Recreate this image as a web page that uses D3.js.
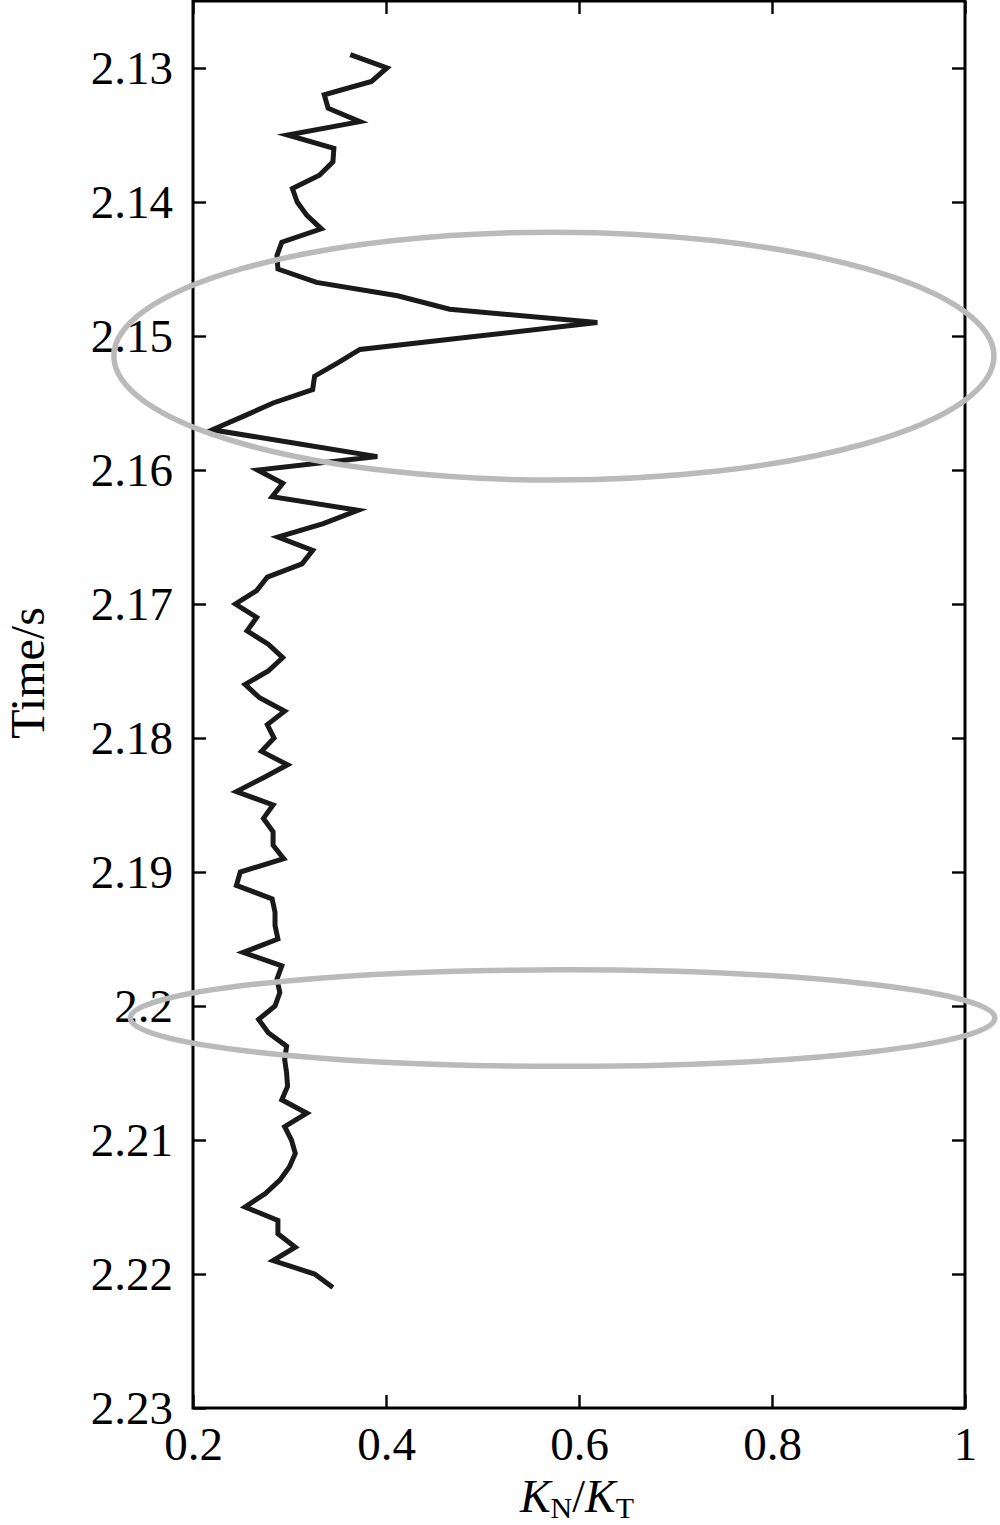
<!DOCTYPE html>
<html>
<head>
<meta charset="utf-8">
<script src="https://cdn.jsdelivr.net/npm/d3@7"></script>
<style>
  html, body { margin: 0; padding: 0; background: #fff; }
  svg { display: block; }
</style>
</head>
<body>
<svg id="chart" width="1000" height="1525"></svg>
<script>
// ---- data ----
const times = [
  2.129, 2.130, 2.131, 2.132, 2.133, 2.134, 2.135, 2.136, 2.137, 2.138,
  2.139, 2.140, 2.141, 2.142, 2.143, 2.144, 2.145, 2.146, 2.147, 2.148,
  2.149, 2.150, 2.151, 2.152, 2.153, 2.154, 2.155, 2.156, 2.157, 2.158,
  2.159, 2.160, 2.161, 2.162, 2.163, 2.164, 2.165, 2.166, 2.167, 2.168,
  2.169, 2.170, 2.171, 2.172, 2.173, 2.174, 2.175, 2.176, 2.177, 2.178,
  2.179, 2.180, 2.181, 2.182, 2.183, 2.184, 2.185, 2.186, 2.187, 2.188,
  2.189, 2.190, 2.191, 2.192, 2.193, 2.194, 2.195, 2.196, 2.197, 2.198,
  2.199, 2.200, 2.201, 2.202, 2.203, 2.204, 2.205, 2.206, 2.207, 2.208,
  2.209, 2.210, 2.211, 2.212, 2.213, 2.214, 2.215, 2.216, 2.217, 2.218,
  2.219, 2.220, 2.221
];
const ratio = [
  0.363, 0.401, 0.385, 0.336, 0.340, 0.373, 0.298, 0.346, 0.345, 0.331,
  0.303, 0.308, 0.318, 0.333, 0.292, 0.287, 0.288, 0.328, 0.412, 0.466,
  0.619, 0.496, 0.373, 0.350, 0.326, 0.324, 0.283, 0.252, 0.220, 0.306,
  0.391, 0.267, 0.293, 0.282, 0.371, 0.335, 0.288, 0.324, 0.313, 0.277,
  0.266, 0.244, 0.266, 0.256, 0.278, 0.293, 0.278, 0.254, 0.269, 0.295,
  0.277, 0.284, 0.271, 0.298, 0.272, 0.245, 0.283, 0.273, 0.283, 0.283,
  0.294, 0.249, 0.245, 0.282, 0.285, 0.285, 0.288, 0.252, 0.292, 0.287,
  0.290, 0.285, 0.268, 0.278, 0.297, 0.295, 0.297, 0.298, 0.292, 0.318,
  0.295, 0.302, 0.306, 0.300, 0.290, 0.275, 0.254, 0.288, 0.288, 0.306,
  0.283, 0.326, 0.345
];
const xTicks = [0.2, 0.4, 0.6, 0.8, 1];
const xTickLabels = ["0.2", "0.4", "0.6", "0.8", "1"];
const yTicks = [2.13, 2.14, 2.15, 2.16, 2.17, 2.18, 2.19, 2.20, 2.21, 2.22, 2.23];
const yTickLabels = ["2.13", "2.14", "2.15", "2.16", "2.17", "2.18", "2.19", "2.2", "2.21", "2.22", "2.23"];
const xDomain = [0.2, 1];
const yDomain = [2.125, 2.23];
// highlight ellipses: centre (ratio, time) and radii (ratio, time)
const ellipseCx = [0.574, 0.583];
const ellipseCy = [2.1515, 2.2009];
const ellipseRx = [0.456, 0.448];
const ellipseRy = [0.00925, 0.0036];

// ---- layout ----
const plotL = 193, plotR = 965, plotT = 1, plotB = 1408;
const FONT = "'Liberation Serif', 'Times New Roman', serif";
const FS = 47;

const svg = d3.select("#chart");
svg.append("rect").attr("width", 1000).attr("height", 1525).attr("fill", "#fff");

const x = d3.scaleLinear().domain(xDomain).range([plotL, plotR]);
const y = d3.scaleLinear().domain(yDomain).range([plotT, plotB]);

function styleAxis(g, showLabels) {
  g.select(".domain").remove();
  g.attr("font-family", FONT);
  g.selectAll(".tick line").attr("stroke", "#000").attr("stroke-width", 2.4);
  g.selectAll(".tick text")
    .attr("font-family", FONT)
    .attr("font-size", FS)
    .attr("fill", "#000");
  if (!showLabels) g.selectAll(".tick text").remove();
}

// Axes (ticks inward)
svg.append("g").attr("transform", `translate(${plotL},0)`)
  .call(d3.axisLeft(y).tickValues(yTicks).tickSize(-13).tickPadding(20)
    .tickFormat((d, i) => yTickLabels[i]))
  .call(g => styleAxis(g, true));
svg.append("g").attr("transform", `translate(${plotR},0)`)
  .call(d3.axisRight(y).tickValues(yTicks).tickSize(-13))
  .call(g => styleAxis(g, false));
svg.append("g").attr("transform", `translate(0,${plotB})`)
  .call(d3.axisBottom(x).tickValues(xTicks).tickSize(-13).tickPadding(19)
    .tickFormat((d, i) => xTickLabels[i]))
  .call(g => styleAxis(g, true));
svg.append("g").attr("transform", `translate(0,${plotT})`)
  .call(d3.axisTop(x).tickValues(xTicks).tickSize(-13))
  .call(g => styleAxis(g, false));

// frame
svg.append("rect")
  .attr("x", plotL).attr("y", plotT)
  .attr("width", plotR - plotL).attr("height", plotB - plotT)
  .attr("fill", "none").attr("stroke", "#000").attr("stroke-width", 3);

// data line
const pts = times.map((t, i) => [ratio[i], t]);
svg.append("path")
  .datum(pts)
  .attr("fill", "none")
  .attr("stroke", "#1a1a1a")
  .attr("stroke-width", 5)
  .attr("stroke-linejoin", "miter")
  .attr("stroke-miterlimit", 6)
  .attr("d", d3.line().x(d => x(d[0])).y(d => y(d[1])));

// ellipses
svg.selectAll("ellipse.hl")
  .data(ellipseCx.map((c, i) => i))
  .enter().append("ellipse")
  .attr("class", "hl")
  .attr("cx", i => x(ellipseCx[i]))
  .attr("cy", i => y(ellipseCy[i]))
  .attr("rx", i => x(xDomain[0] + ellipseRx[i]) - x(xDomain[0]))
  .attr("ry", i => y(yDomain[0] + ellipseRy[i]) - y(yDomain[0]))
  .attr("fill", "none")
  .attr("stroke", "#bababa")
  .attr("stroke-width", 5.5);

// axis titles
svg.append("text")
  .attr("transform", "translate(44,673) rotate(-90)")
  .attr("text-anchor", "middle")
  .attr("font-family", FONT)
  .attr("font-size", 48)
  .text("Time/s");

const xl = svg.append("text")
  .attr("x", (plotL + plotR) / 2 - 2)
  .attr("y", 1512)
  .attr("text-anchor", "middle")
  .attr("font-family", FONT)
  .attr("font-size", 46);
xl.append("tspan").attr("font-style", "italic").text("K");
xl.append("tspan").attr("font-size", 30).attr("dy", 6).text("N");
xl.append("tspan").attr("dy", -6).text("/");
xl.append("tspan").attr("font-style", "italic").text("K");
xl.append("tspan").attr("font-size", 30).attr("dy", 6).text("T");
</script>
</body>
</html>
